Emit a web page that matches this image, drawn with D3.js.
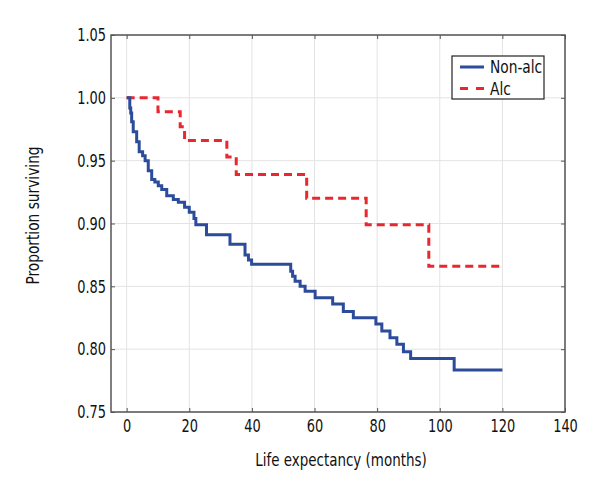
<!doctype html>
<html lang="en">
<head>
<meta charset="utf-8">
<title>Survival</title>
<script src="https://d3js.org/d3.v7.min.js"></script>
<style>
  body { margin: 0; background: #fff; }
  text { font-family: "DejaVu Sans Condensed", "Liberation Sans Narrow", sans-serif; fill: #111; }
</style>
</head>
<body>
<div id="chart"></div>
<script>
// step data (months, proportion surviving)
const nonAlcTime = [0, 1.0, 1.3, 1.6, 2.1, 3.2, 4.0, 5.1, 5.9, 6.9, 8.0, 9.0, 10.1, 11.2, 12.8, 14.9, 16.5, 18.5, 20, 21.5, 22.1, 25.5, 33, 37.8, 38.9, 39.9, 52.4, 53, 53.8, 55.4, 57, 60.2, 65.8, 69.2, 72.4, 79.6, 81.5, 84.1, 86.3, 88.4, 90.7, 104.6, 120]
const nonAlcSurv = [1.0, 0.992, 0.988, 0.981, 0.973, 0.965, 0.957, 0.954, 0.95, 0.942, 0.935, 0.933, 0.93, 0.927, 0.922, 0.919, 0.917, 0.913, 0.909, 0.904, 0.899, 0.891, 0.8835, 0.875, 0.871, 0.8675, 0.862, 0.858, 0.854, 0.85, 0.846, 0.841, 0.836, 0.83, 0.825, 0.82, 0.8145, 0.809, 0.804, 0.798, 0.7925, 0.7835, 0.7835]

const alcTime = [0, 10, 17.1, 18.5, 32, 35, 57.5, 76.5, 96.5, 120]
const alcSurv = [1.0, 0.989, 0.977, 0.966, 0.953, 0.939, 0.92, 0.899, 0.866, 0.866]

const xTicks = [0, 20, 40, 60, 80, 100, 120, 140]
const yTicks = [0.75, 0.80, 0.85, 0.90, 0.95, 1.00, 1.05]

const seriesNames = ['Non-alc', 'Alc']
const blue = '#2c4b9b'
const red = '#e8282e'

const W = 600, H = 500
const mLeft = 111, mRight = 565, mTop = 35, mBottom = 412
const narrow = 0.8   // squeeze the text, the original font is condensed

const svg = d3.select('#chart').append('svg').attr('width', W).attr('height', H)

const x = d3.scaleLinear().domain([-5, 140]).range([mLeft, mRight])
const y = d3.scaleLinear().domain([0.75, 1.05]).range([mBottom, mTop])

// grid
svg.append('g').selectAll('line').data(xTicks).join('line')
   .attr('x1', d => x(d)).attr('x2', d => x(d))
   .attr('y1', mTop).attr('y2', mBottom)
   .attr('stroke', '#e3e3e3').attr('stroke-width', 1)
svg.append('g').selectAll('line').data(yTicks).join('line')
   .attr('x1', mLeft).attr('x2', mRight)
   .attr('y1', d => y(d)).attr('y2', d => y(d))
   .attr('stroke', '#e3e3e3').attr('stroke-width', 1)

// axes, ticks pointing inwards
const styleAxis = g => {
  g.select('.domain').remove()
  g.selectAll('.tick line').attr('stroke', '#555').attr('stroke-width', 1)
  g.selectAll('.tick text').style('font-size', '18px')
   .attr('transform', `scale(${narrow},1)`)
}
svg.append('g').attr('transform', `translate(0,${mBottom})`)
   .call(d3.axisBottom(x).tickValues(xTicks).tickSize(-4).tickPadding(7))
   .call(styleAxis)
svg.append('g').attr('transform', `translate(${mLeft},0)`)
   .call(d3.axisLeft(y).tickValues(yTicks).tickFormat(d3.format('.2f')).tickSize(-4))
   .call(styleAxis)
   .call(g => g.selectAll('.tick text').attr('x', -5 / narrow))
svg.append('g').attr('transform', `translate(0,${mTop})`)
   .call(d3.axisTop(x).tickValues(xTicks).tickSize(-4).tickFormat(''))
   .call(styleAxis)
svg.append('g').attr('transform', `translate(${mRight},0)`)
   .call(d3.axisRight(y).tickValues(yTicks).tickSize(-4).tickFormat(''))
   .call(styleAxis)

svg.append('rect')
   .attr('x', mLeft).attr('y', mTop)
   .attr('width', mRight - mLeft).attr('height', mBottom - mTop)
   .attr('fill', 'none').attr('stroke', '#555').attr('stroke-width', 1.5)

// curves
const line = d3.line().x(d => x(d[0])).y(d => y(d[1])).curve(d3.curveStepAfter)

svg.append('path')
   .datum(d3.zip(alcTime, alcSurv))
   .attr('d', line)
   .attr('fill', 'none').attr('stroke', red).attr('stroke-width', 3)
   .attr('stroke-dasharray', '8,5')

svg.append('path')
   .datum(d3.zip(nonAlcTime, nonAlcSurv))
   .attr('d', line)
   .attr('fill', 'none').attr('stroke', blue).attr('stroke-width', 3)

// labels
svg.append('text')
   .attr('transform', `translate(${(mLeft + mRight) / 2 + 3},466) scale(0.88,1)`)
   .attr('text-anchor', 'middle').style('font-size', '17px')
   .text('Life expectancy (months)')
svg.append('text')
   .attr('transform', `translate(39,${(mTop + mBottom) / 2 - 8}) rotate(-90) scale(0.9,1)`)
   .attr('text-anchor', 'middle').style('font-size', '17px')
   .text('Proportion surviving')

// legend
const lg = svg.append('g').attr('transform', 'translate(452,56)')
lg.append('rect').attr('width', 92).attr('height', 43)
  .attr('fill', '#fff').attr('stroke', '#222').attr('stroke-width', 1.2)
const items = lg.selectAll('g').data(seriesNames).join('g')
  .attr('transform', (d, i) => `translate(0,${11 + i * 21.5})`)
items.append('line')
  .attr('x1', 8).attr('x2', 32)
  .attr('stroke', (d, i) => i === 0 ? blue : red)
  .attr('stroke-width', 3)
  .attr('stroke-dasharray', (d, i) => i === 0 ? null : '8,8')
items.append('text')
  .attr('transform', 'translate(38,0) scale(0.85,1)')
  .attr('dy', '0.35em')
  .style('font-size', '18px')
  .text(d => d)
</script>
</body>
</html>
